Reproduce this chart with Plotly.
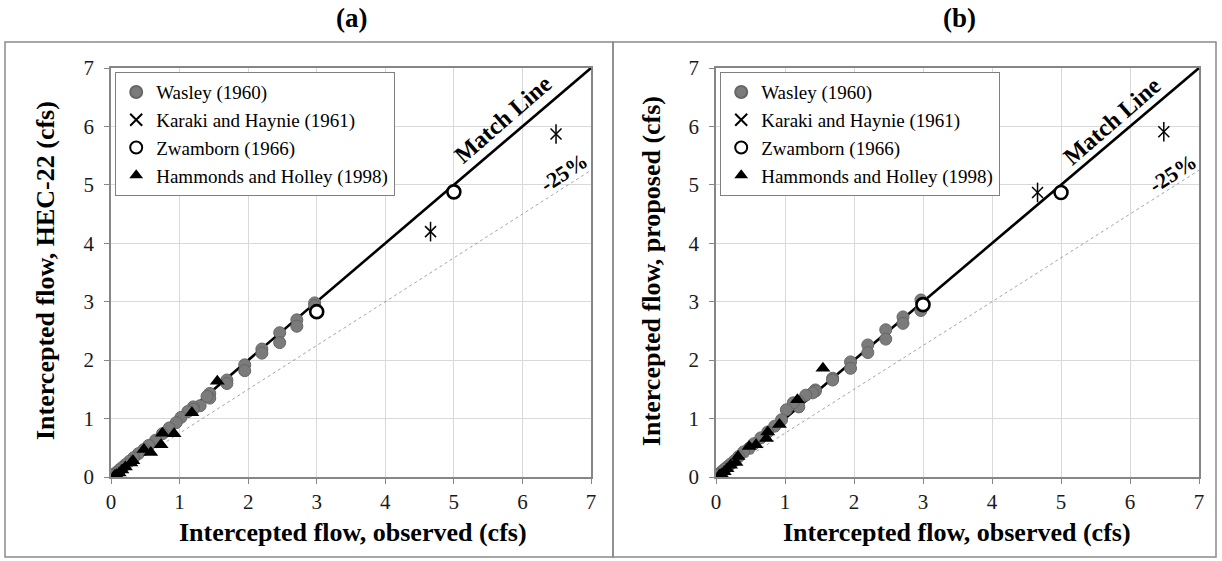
import plotly.graph_objects as go

# ---- data (cfs) ----
# Wasley (1960): observed flow, HEC-22 estimate, proposed estimate
wasley_obs = [2.97, 2.97, 2.71, 2.71, 2.46, 2.46, 2.20, 2.20, 1.95, 1.95, 1.69, 1.69,
              1.44, 1.44, 1.40, 1.30, 1.20, 1.20, 1.12, 1.02, 0.95, 0.85, 0.75, 0.65,
              0.55, 0.48, 0.40, 0.33, 0.27, 0.21, 0.16, 0.12, 0.08, 0.05, 0.03]
wasley_hec = [2.98, 2.93, 2.69, 2.58, 2.47, 2.30, 2.19, 2.12, 1.92, 1.82, 1.66, 1.60,
              1.43, 1.35, 1.38, 1.22, 1.20, 1.16, 1.12, 1.02, 0.93, 0.84, 0.74, 0.63,
              0.54, 0.47, 0.40, 0.33, 0.27, 0.21, 0.16, 0.12, 0.08, 0.05, 0.03]
wasley_prop = [3.03, 2.85, 2.74, 2.63, 2.52, 2.36, 2.26, 2.13, 1.97, 1.86, 1.69, 1.66,
               1.49, 1.47, 1.44, 1.40, 1.29, 1.20, 1.27, 1.15, 0.98, 0.87, 0.77, 0.67,
               0.57, 0.49, 0.43, 0.35, 0.28, 0.22, 0.17, 0.13, 0.09, 0.05, 0.03]

# Karaki and Haynie (1961)
karaki_obs = [4.66, 6.49]
karaki_hec = [4.20, 5.87]
karaki_prop = [4.87, 5.91]

# Zwamborn (1966)
zwam_obs = [3.0, 5.0]
zwam_hec = [2.83, 4.88]
zwam_prop = [2.95, 4.87]

# Hammonds and Holley (1998)
hamm_obs = [1.55, 1.18, 0.92, 0.75, 0.73, 0.58, 0.48, 0.32, 0.29, 0.21, 0.16, 0.12, 0.08, 0.05]
hamm_hec = [1.64, 1.10, 0.74, 0.75, 0.55, 0.42, 0.47, 0.28, 0.24, 0.17, 0.12, 0.07, 0.04, 0.02]
hamm_prop = [1.86, 1.32, 0.90, 0.77, 0.66, 0.55, 0.52, 0.35, 0.25, 0.20, 0.14, 0.09, 0.05, 0.03]

# reference lines
match_x = [0, 7]
match_y = [0, 7]
minus25_x = [0, 7]
minus25_y = [0, 5.25]

axis_ticks = [0, 1, 2, 3, 4, 5, 6, 7]

W, H = 1222, 561
FONT = "Liberation Serif, Times New Roman, serif"

fig = go.Figure()

panels = [
    dict(xa="x", ya="y", legend="legend", hec=True),
    dict(xa="x2", ya="y2", legend="legend2", hec=False),
]

for p in panels:
    xa, ya, lg = p["xa"], p["ya"], p["legend"]
    w_y = wasley_hec if p["hec"] else wasley_prop
    k_y = karaki_hec if p["hec"] else karaki_prop
    z_y = zwam_hec if p["hec"] else zwam_prop
    h_y = hamm_hec if p["hec"] else hamm_prop

    fig.add_trace(go.Scatter(x=minus25_x, y=minus25_y, mode="lines", xaxis=xa, yaxis=ya,
                             line=dict(color="#8c8c8c", width=0.8, dash="dot"),
                             showlegend=False, hoverinfo="skip"))
    fig.add_trace(go.Scatter(x=match_x, y=match_y, mode="lines", xaxis=xa, yaxis=ya,
                             line=dict(color="black", width=2.6),
                             showlegend=False, hoverinfo="skip"))
    fig.add_trace(go.Scatter(x=wasley_obs, y=w_y, mode="markers", name="Wasley (1960)",
                             xaxis=xa, yaxis=ya, legend=lg,
                             marker=dict(symbol="circle", size=12, color="#7b7b7b",
                                         line=dict(color="#666666", width=1))))
    fig.add_trace(go.Scatter(x=karaki_obs, y=k_y, mode="markers", name="Karaki and Haynie (1961)",
                             xaxis=xa, yaxis=ya, legend=lg,
                             marker=dict(symbol="x-thin-open", size=11, color="black",
                                         line=dict(color="black", width=1.5))))
    fig.add_trace(go.Scatter(x=karaki_obs, y=k_y, mode="markers", showlegend=False,
                             xaxis=xa, yaxis=ya, hoverinfo="skip",
                             marker=dict(symbol="line-ns-open", size=14, color="black",
                                         line=dict(color="black", width=1.5))))
    fig.add_trace(go.Scatter(x=zwam_obs, y=z_y, mode="markers", name="Zwamborn (1966)",
                             xaxis=xa, yaxis=ya, legend=lg,
                             marker=dict(symbol="circle", size=13, color="white",
                                         line=dict(color="black", width=2.6))))
    fig.add_trace(go.Scatter(x=hamm_obs, y=h_y, mode="markers", name="Hammonds and Holley (1998)",
                             xaxis=xa, yaxis=ya, legend=lg,
                             marker=dict(symbol="triangle-up", size=13, color="black")))

y_dom = [(H - 477) / H, (H - 68) / H]
ax_common = dict(range=[0, 7], tickvals=axis_ticks, showgrid=True, gridcolor="#d9d9d9",
                 gridwidth=1, showline=True, linecolor="#868686", linewidth=1.5,
                 mirror=True, ticks="outside", ticklen=5, tickcolor="#868686",
                 tickfont=dict(family=FONT, size=21, color="#1a1a1a"), zeroline=False,
                 fixedrange=True, automargin=False)

legend_common = dict(font=dict(family=FONT, size=19, color="black"), bgcolor="white",
                     bordercolor="#808080", borderwidth=1.2, xanchor="left", yanchor="top",
                     tracegroupgap=0, itemsizing="constant", itemwidth=30)

fig.update_layout(
    width=W, height=H, margin=dict(l=0, r=0, t=0, b=0, autoexpand=False),
    font=dict(family=FONT, color="black"),
    paper_bgcolor="white", plot_bgcolor="white",
    xaxis=dict(domain=[111 / W, 591 / W], anchor="y", **ax_common),
    yaxis=dict(domain=y_dom, anchor="x", ticklabelstandoff=6, **ax_common),
    xaxis2=dict(domain=[716 / W, 1199 / W], anchor="y2", **ax_common),
    yaxis2=dict(domain=y_dom, anchor="x2", ticklabelstandoff=6, **ax_common),
    legend=dict(x=115 / W, y=1 - 72 / H, **legend_common),
    legend2=dict(x=720 / W, y=1 - 72 / H, **legend_common),
    showlegend=True,
)

# panel frames
for x0, x1 in [(5, 613), (613, 1216)]:
    fig.add_shape(type="rect", xref="paper", yref="paper",
                  x0=x0 / W, x1=x1 / W, y0=1 - 557 / H, y1=1 - 42 / H,
                  line=dict(color="#8a8a8a", width=1.5), layer="below")

# panel titles and axis titles
titles = [("(a)", 351, "Intercepted flow, HEC-22 (cfs)", 45, 353),
          ("(b)", 960, "Intercepted flow, proposed (cfs)", 651, 957)]
for tag, tx, ytitle, yx, xcx in titles:
    fig.add_annotation(text="<b>%s</b>" % tag, xref="paper", yref="paper",
                       x=tx / W, y=1 - 18 / H, xanchor="center", yanchor="middle",
                       showarrow=False, font=dict(family=FONT, size=27, color="black"))
    fig.add_annotation(text="<b>%s</b>" % ytitle, xref="paper", yref="paper",
                       x=yx / W, y=1 - 271 / H, xanchor="center", yanchor="middle",
                       textangle=-90, showarrow=False,
                       font=dict(family=FONT, size=26, color="black"))
    fig.add_annotation(text="<b>Intercepted flow, observed (cfs)</b>", xref="paper", yref="paper",
                       x=xcx / W, y=1 - 532 / H, xanchor="center", yanchor="middle",
                       showarrow=False, font=dict(family=FONT, size=26, color="black"))

# line labels
for xa, ya, mx, my, px, py in [("x", "y", 5.72, 6.13, 6.60, 5.22),
                               ("x2", "y2", 5.74, 6.10, 6.61, 5.20)]:
    fig.add_annotation(text="<b>Match Line</b>", xref=xa, yref=ya, x=mx, y=my,
                       xanchor="center", yanchor="middle",
                       textangle=-41, showarrow=False,
                       font=dict(family=FONT, size=24, color="black"))
    fig.add_annotation(text="<b>-25%</b>", xref=xa, yref=ya, x=px, y=py,
                       xanchor="center", yanchor="middle",
                       textangle=-33, showarrow=False,
                       font=dict(family=FONT, size=22, color="black"))

fig.write_html("out.html")
